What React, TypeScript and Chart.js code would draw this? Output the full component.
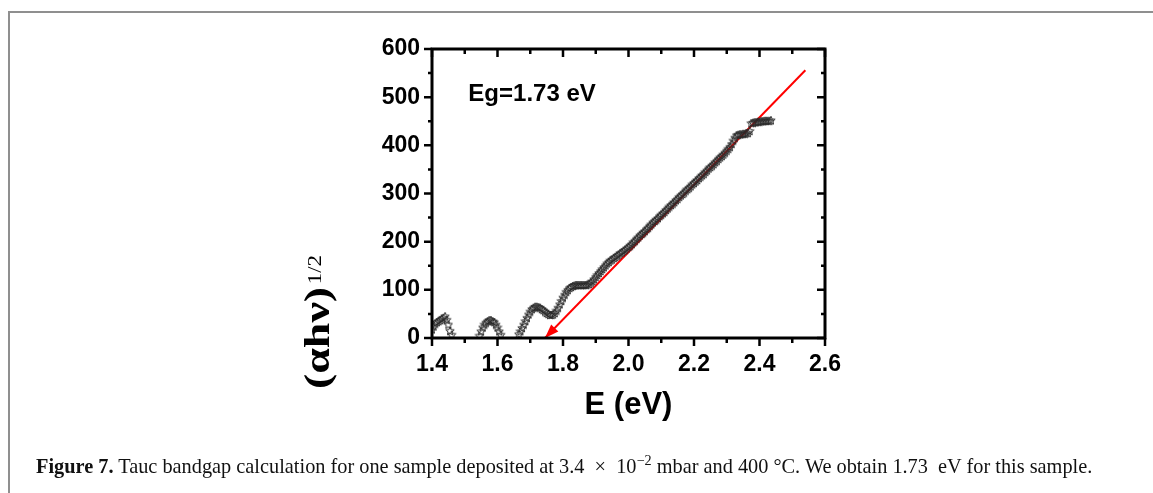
import React, { useEffect, useRef } from 'react';
import { Chart, registerables } from 'chart.js';

Chart.register(...registerables);

// ---- data ----
const seg1E = [1.400, 1.405, 1.410, 1.415, 1.420, 1.425, 1.430, 1.435, 1.440, 1.445, 1.450, 1.455, 1.460];
const seg1Y = [18, 24, 30, 33, 35, 37, 40, 42, 45, 38, 28, 15, 7];
const seg2E = [1.545, 1.550, 1.555, 1.560, 1.565, 1.570, 1.575, 1.580, 1.585, 1.590, 1.595, 1.600, 1.605, 1.610];
const seg2Y = [5, 14, 22, 28, 32, 35, 37, 37, 35, 33, 28, 22, 14, 7];
const seg3E = [
  1.665, 1.670, 1.675, 1.680, 1.685, 1.690, 1.695,
  1.700, 1.705, 1.710, 1.715, 1.720, 1.725, 1.730, 1.735, 1.740, 1.745,
  1.750, 1.755, 1.760, 1.765, 1.770, 1.775, 1.780, 1.785, 1.790, 1.795,
  1.800, 1.805, 1.810, 1.815, 1.820, 1.825, 1.830, 1.835, 1.840, 1.845,
  1.850, 1.855, 1.860, 1.865, 1.870, 1.875, 1.880, 1.885, 1.890, 1.895,
  1.900, 1.905, 1.910, 1.915, 1.920, 1.925, 1.930, 1.935, 1.940, 1.945,
  1.950, 1.955, 1.960, 1.965, 1.970, 1.975, 1.980, 1.985, 1.990, 1.995,
  2.000, 2.005, 2.010, 2.015, 2.020, 2.025, 2.030, 2.035, 2.040, 2.045,
  2.050, 2.055, 2.060, 2.065, 2.070, 2.075, 2.080, 2.085, 2.090, 2.095,
  2.100, 2.105, 2.110, 2.115, 2.120, 2.125, 2.130, 2.135, 2.140, 2.145,
  2.150, 2.155, 2.160, 2.165, 2.170, 2.175, 2.180, 2.185, 2.190, 2.195,
  2.200, 2.205, 2.210, 2.215, 2.220, 2.225, 2.230, 2.235, 2.240, 2.245,
  2.250, 2.255, 2.260, 2.265, 2.270, 2.275, 2.280, 2.285, 2.290, 2.295,
  2.300, 2.305, 2.310, 2.315, 2.320, 2.325, 2.330, 2.335, 2.340, 2.345,
  2.350, 2.355, 2.360, 2.365, 2.370, 2.375, 2.380, 2.385, 2.390, 2.395,
  2.400, 2.405, 2.410, 2.415, 2.420, 2.425, 2.430, 2.435,
];
const seg3Y = [
  8, 14, 21, 28, 35, 42, 49,
  55, 60, 63, 65, 65, 64, 63, 60, 58, 55,
  52, 50, 48, 48, 49, 52, 57, 63, 70, 77,
  84, 90, 96, 100, 104, 106, 108, 109, 110, 110,
  110, 110, 110, 110, 110, 111, 112, 115, 118, 122,
  127, 131, 135, 139, 143, 147, 151, 155, 158, 161,
  163, 166, 168, 171, 173, 176, 178, 181, 183, 186,
  189, 192, 195, 199, 202, 206, 209, 213, 216, 219,
  222, 226, 229, 233, 236, 240, 243, 246, 249, 253,
  256, 259, 262, 266, 269, 273, 276, 279, 282, 286,
  289, 293, 296, 299, 302, 306, 309, 312, 315, 319,
  322, 325, 328, 332, 335, 338, 341, 345, 348, 352,
  355, 358, 361, 365, 368, 372, 375, 378, 381, 385,
  389, 393, 397, 403, 410, 416, 421, 422, 423, 423,
  424, 424, 425, 426, 430, 446, 447, 448, 448, 449,
  449, 450, 450, 451, 451, 451, 451, 452,
];
// linear fit (Tauc extrapolation): tip first, far end second
const fitE = [1.745, 2.54];
const fitY = [0, 556];

const xTicks = [1.4, 1.6, 1.8, 2.0, 2.2, 2.4, 2.6];
const yTicks = [0, 100, 200, 300, 400, 500, 600];
const annotation = 'Eg=1.73 eV';
const xTitle = 'E (eV)';
const yTitleMain = '(\u03B1h\u03BD)';
const yTitleSup = '1/2';

function makeStar(): HTMLCanvasElement {
  const c = document.createElement('canvas');
  const s = 10;
  c.width = s; c.height = s;
  const g = c.getContext('2d')!;
  g.strokeStyle = '#2a2a2a';
  g.lineWidth = 1;
  g.beginPath();
  const cx = s / 2, cy = s / 2 + 0.4, R = 4.4, r = 2;
  for (let i = 0; i < 10; i++) {
    const ang = -Math.PI / 2 + (i * Math.PI) / 5;
    const rad = i % 2 === 0 ? R : r;
    const px = cx + rad * Math.cos(ang);
    const py = cy + rad * Math.sin(ang);
    if (i === 0) g.moveTo(px, py); else g.lineTo(px, py);
  }
  g.closePath();
  g.stroke();
  return c;
}

const decor = {
  id: 'decor',
  afterDatasetsDraw(chart: any) {
    const { ctx, chartArea: a, scales } = chart;
    const x = scales.x, y = scales.y;
    ctx.save();
    // arrow head
    const tx = x.getPixelForValue(fitE[0]), ty = y.getPixelForValue(fitY[0]);
    const fx = x.getPixelForValue(fitE[1]), fy = y.getPixelForValue(fitY[1]);
    const ang = Math.atan2(ty - fy, tx - fx);
    const L = 14, W = 5;
    const bx = tx - L * Math.cos(ang), by = ty - L * Math.sin(ang);
    ctx.fillStyle = '#ff0000';
    ctx.beginPath();
    ctx.moveTo(tx, ty);
    ctx.lineTo(bx + W * Math.sin(ang), by - W * Math.cos(ang));
    ctx.lineTo(bx - W * Math.sin(ang), by + W * Math.cos(ang));
    ctx.closePath();
    ctx.fill();

    // frame
    ctx.strokeStyle = '#000';
    ctx.lineWidth = 3;
    ctx.strokeRect(a.left, a.top, a.right - a.left, a.bottom - a.top);

    // ticks
    ctx.lineWidth = 2.5;
    ctx.beginPath();
    for (let i = 0; i < xTicks.length; i++) {
      const vals = [xTicks[i]];
      if (i < xTicks.length - 1) vals.push((xTicks[i] + xTicks[i + 1]) / 2);
      vals.forEach((v, k) => {
        const len = k === 0 ? 8 : 5;
        const px = x.getPixelForValue(v);
        ctx.moveTo(px, a.bottom); ctx.lineTo(px, a.bottom + len);
        ctx.moveTo(px, a.top); ctx.lineTo(px, a.top + len);
      });
    }
    for (let i = 0; i < yTicks.length; i++) {
      const vals = [yTicks[i]];
      if (i < yTicks.length - 1) vals.push((yTicks[i] + yTicks[i + 1]) / 2);
      vals.forEach((v, k) => {
        const len = k === 0 ? 8 : 4;
        const py = y.getPixelForValue(v);
        ctx.moveTo(a.left, py); ctx.lineTo(a.left - len, py);
        ctx.moveTo(a.right, py); ctx.lineTo(a.right - len, py);
      });
    }
    ctx.stroke();

    // annotation
    ctx.fillStyle = '#000';
    ctx.font = 'bold 24px "Liberation Sans", Arial, sans-serif';
    ctx.textAlign = 'left';
    ctx.textBaseline = 'alphabetic';
    ctx.fillText(annotation, x.getPixelForValue(1.511), y.getPixelForValue(492));

    // x title
    ctx.font = 'bold 31px "Liberation Sans", Arial, sans-serif';
    ctx.textAlign = 'center';
    ctx.textBaseline = 'middle';
    ctx.fillText(xTitle, (a.left + a.right) / 2, 405);

    // y title (rotated, slightly stretched along its direction)
    const mainFont = 'bold 36px "Liberation Serif", "Times New Roman", serif';
    const supFont = '18px "Liberation Serif", "Times New Roman", serif';
    ctx.font = mainFont;
    const mw = ctx.measureText(yTitleMain).width;
    ctx.font = supFont;
    const sw = ctx.measureText(yTitleSup).width;
    const total = mw + 2 + sw;
    const targetLen = 134;
    const sc = targetLen / total;
    ctx.translate(329, 322);
    ctx.rotate(-Math.PI / 2);
    ctx.scale(sc, 1);
    ctx.textBaseline = 'alphabetic';
    ctx.textAlign = 'left';
    const start = -total / 2;
    ctx.font = mainFont;
    ctx.fillText(yTitleMain, start, 0);
    ctx.font = supFont;
    ctx.fillText(yTitleSup, start + mw + 2, -8);
    ctx.restore();
  },
};

export default function App() {
  const canvasRef = useRef<HTMLCanvasElement>(null);
  const capRef = useRef<HTMLDivElement>(null);

  useEffect(() => {
    const star = makeStar();
    const pts = (E: number[], Y: number[]) => E.map((e, i) => ({ x: e, y: Y[i] }));
    const dataPts = [...pts(seg1E, seg1Y), ...pts(seg2E, seg2Y), ...pts(seg3E, seg3Y)];
    const chart = new Chart(canvasRef.current!, {
      type: 'scatter',
      data: {
        datasets: [
          {
            data: dataPts,
            pointStyle: star as any,
            pointRadius: 5,
            showLine: false,
          },
          {
            data: pts(fitE, fitY),
            showLine: true,
            borderColor: '#ff0000',
            borderWidth: 2,
            pointRadius: 0,
          } as any,
        ],
      },
      options: {
        responsive: false,
        animation: false,
        devicePixelRatio: 1,
        layout: { padding: { left: 0, top: 49, right: 328, bottom: 0 } },
        plugins: { legend: { display: false }, tooltip: { enabled: false } },
        scales: {
          x: {
            type: 'linear',
            min: 1.4,
            max: 2.6,
            afterFit: (s: any) => { s.height = 155; },
            afterBuildTicks: (s: any) => { s.ticks = xTicks.map((v) => ({ value: v })); },
            grid: { display: false, drawTicks: true, tickLength: 8 },
            border: { display: false },
            ticks: {
              padding: 5,
              color: '#000',
              maxRotation: 0,
              autoSkip: false,
              font: { family: '"Liberation Sans", Arial, sans-serif', weight: 'bold', size: 23 },
              callback: (v: any) => Number(v).toFixed(1),
            },
          },
          y: {
            type: 'linear',
            min: 0,
            max: 600,
            afterFit: (s: any) => { s.width = 432; },
            afterBuildTicks: (s: any) => { s.ticks = yTicks.map((v) => ({ value: v })); },
            grid: { display: false, drawTicks: true, tickLength: 8 },
            border: { display: false },
            ticks: {
              padding: 4,
              color: '#000',
              font: { family: '"Liberation Sans", Arial, sans-serif', weight: 'bold', size: 23 },
            },
          },
        },
      },
      plugins: [decor],
    });

    // fit caption width
    const cap = capRef.current;
    if (cap) {
      const w = cap.getBoundingClientRect().width;
      const target = 1057;
      if (w > 0) cap.style.fontSize = (19 * target) / w + 'px';
    }
    return () => chart.destroy();
  }, []);

  return (
    <>
      <div
        style={{
          position: 'absolute', left: 8, top: 11, width: 1145, height: 482,
          borderTop: '2px solid #8f8f8f', borderLeft: '2px solid #8f8f8f', boxSizing: 'border-box',
        }}
      />
      <canvas
        ref={canvasRef}
        width={1153}
        height={493}
        style={{ position: 'absolute', left: 0, top: 0, width: 1153, height: 493 }}
      />
      <div
        ref={capRef}
        style={{
          position: 'absolute', left: 36, top: 456, whiteSpace: 'nowrap',
          fontFamily: '"Liberation Serif", "Times New Roman", serif', fontSize: 19, lineHeight: '20px', color: '#111',
        }}
      >
        <b>Figure 7.</b> Tauc bandgap calculation for one sample deposited at 3.4&nbsp;&nbsp;×&nbsp;&nbsp;10
        <sup style={{ fontSize: '0.7em', lineHeight: 0 }}>−2</sup> mbar and 400 °C. We obtain 1.73&nbsp; eV for this sample.
      </div>
    </>
  );
}
